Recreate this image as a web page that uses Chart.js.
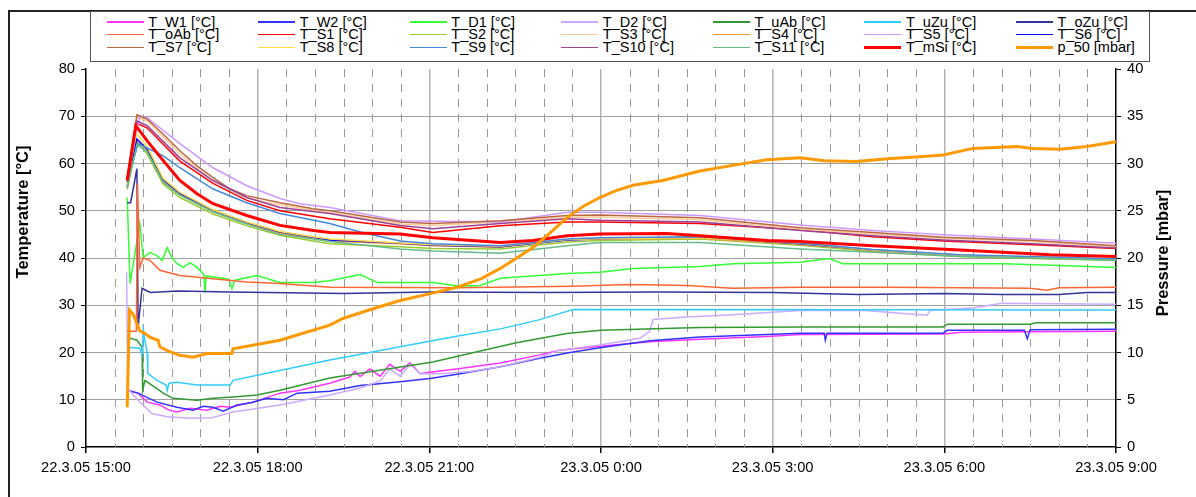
<!DOCTYPE html>
<html>
<head>
<meta charset="utf-8">
<title>Temperaturas y presión</title>
<script src="https://cdn.jsdelivr.net/npm/chart.js@4.4.0/dist/chart.umd.min.js"></script>
<style>
    body { margin: 0; background: #fff; font-family: "Liberation Sans", Arial, sans-serif; }
    #contenedor { position: relative; width: 1196px; height: 497px; overflow: hidden; }
    #grafico { position: absolute; left: 0; top: 0; }
    #marco { position: absolute; left: 8px; top: 10px; width: 1200px; height: 500px; border: 2px solid #222; }
    #leyenda { position: absolute; left: 90px; top: 11px; width: 1058px; height: 49px; border: 1px solid #555; background: #fff; }
    .muestra { position: absolute; width: 37px; }
    .texto { position: absolute; font-size: 14.5px; line-height: 13px; white-space: nowrap; color: #000; }
</style>
</head>
<body>
<div id="contenedor">
    <canvas id="grafico" width="1196" height="497"></canvas>
    <div id="marco"></div>
    <div id="leyenda"></div>
</div>
<script>
// Nombres de las series (orden de la leyenda)
const nombres = ['T_W1 [°C]', 'T_W2 [°C]', 'T_D1 [°C]', 'T_D2 [°C]', 'T_uAb [°C]', 'T_uZu [°C]', 'T_oZu [°C]',
    'T_oAb [°C]', 'T_S1 [°C]', 'T_S2 [°C]', 'T_S3 [°C]', 'T_S4 [°C]', 'T_S5 [°C]', 'T_S6 [°C]',
    'T_S7 [°C]', 'T_S8 [°C]', 'T_S9 [°C]', 'T_S10 [°C]', 'T_S11 [°C]', 'T_mSi [°C]', 'p_50 [mbar]'];

const colores = ['#ff33ff', '#3333ff', '#33ff33', '#ccaaff', '#339933', '#33ccff', '#333399',
    '#ff6633', '#ff0000', '#99cc33', '#ffcc99', '#ff9933', '#cc99ff', '#0000ff',
    '#bb6644', '#ffdd44', '#4488dd', '#994499', '#66bb88', '#ff0000', '#ff9900'];

// Etiquetas del eje de tiempo (cada 3 horas desde 22.3.05 15:00)
const etiquetasTiempo = ['22.3.05 15:00', '22.3.05 18:00', '22.3.05 21:00', '23.3.05 0:00', '23.3.05 3:00', '23.3.05 6:00', '23.3.05 9:00'];

// Datos: [horas desde 15:00, valor]
const tW1 = [[0.72,12.0],[0.91,11.4],[1.07,9.5],[1.29,8.9],[1.45,7.8],[1.59,7.4],[1.82,8.2],[2.11,7.8],[2.35,8.6],[2.52,8.4],[2.92,9.5],[3.39,11.4],[3.74,12.0],[4.26,13.5],[4.61,14.8],[4.7,16.0],[4.79,14.9],[4.96,16.5],[5.14,15.0],[5.31,17.5],[5.49,16.0],[5.66,17.8],[5.84,15.5],[6.01,15.8],[6.54,16.6],[7.24,17.8],[7.93,19.5],[8.28,20.5],[8.98,21.3],[9.85,22.3],[10.73,22.8],[11.9,23.4],[12.48,23.8],[14.98,23.9],[15.3,24.3],[16.5,24.4],[18.0,24.5]];
const tW2 = [[0.72,12.0],[0.91,11.4],[1.24,9.5],[1.59,8.4],[1.87,7.8],[2.05,8.6],[2.22,8.4],[2.4,7.6],[2.64,8.9],[2.9,9.4],[3.16,10.3],[3.45,10.0],[3.69,11.4],[4.26,11.8],[4.79,13.0],[5.49,13.8],[6.01,14.5],[6.54,15.5],[7.24,17.0],[7.93,18.8],[8.46,20.0],[8.98,21.0],[9.85,22.5],[10.73,23.3],[11.9,23.8],[12.48,24.1],[12.9,24.1],[12.92,22.6],[12.95,24.1],[14.98,24.1],[15.05,24.7],[16.4,24.7],[16.45,22.9],[16.5,24.8],[18.0,24.9]];
const tD1 = [[0.72,52.8],[0.77,34.6],[0.94,47.3],[1.0,40.1],[1.12,41.2],[1.24,40.5],[1.33,39.5],[1.42,42.2],[1.5,40.1],[1.59,38.8],[1.7,38.0],[1.82,39.0],[1.94,38.0],[2.06,36.5],[2.08,32.7],[2.1,36.2],[2.5,35.5],[2.55,33.5],[2.6,35.3],[2.99,36.3],[3.39,34.8],[3.97,34.8],[4.26,35.2],[4.79,36.5],[5.09,34.8],[6.06,34.8],[6.54,34.0],[6.89,34.2],[7.24,35.7],[8.41,36.7],[8.98,37.0],[9.56,37.8],[10.73,38.2],[11.31,38.8],[12.48,39.1],[12.98,39.9],[13.23,38.8],[16.03,38.8],[17.02,38.4],[18.0,38.0]];
const tD2 = [[0.71,37.0],[0.73,12.4],[0.91,9.9],[1.15,7.1],[1.42,6.4],[1.82,6.1],[2.2,6.2],[2.57,7.4],[3.39,8.9],[4.26,11.0],[4.79,12.5],[5.14,14.0],[5.31,16.5],[5.49,15.0],[5.66,17.5],[5.84,15.5],[6.19,15.5],[6.71,16.0],[7.24,17.0],[7.93,19.0],[8.28,20.5],[8.98,21.6],[9.68,23.0],[9.85,24.5],[9.91,27.0],[10.5,27.5],[11.3,28.0],[12.48,28.9],[13.6,28.9],[14.7,27.9],[14.75,28.9],[15.5,29.4],[16.0,30.4],[18.0,30.2]];
const tUAb = [[0.72,23.2],[0.89,22.6],[0.98,21.1],[0.99,12.0],[1.03,14.1],[1.15,13.1],[1.35,11.4],[1.52,10.3],[1.94,9.9],[2.22,10.3],[2.57,10.6],[2.99,11.0],[3.39,12.0],[4.26,14.6],[6.06,18.0],[7.5,22.0],[8.4,24.0],[9.0,24.7],[10.73,25.3],[12.48,25.4],[14.98,25.4],[15.05,26.0],[16.5,26.0],[16.6,26.3],[18.0,26.3]];
const tUZu = [[0.72,21.1],[0.94,20.9],[0.98,19.5],[1.0,24.7],[1.07,19.8],[1.08,15.6],[1.24,14.1],[1.4,13.1],[1.42,12.0],[1.45,13.5],[1.59,13.7],[1.94,13.1],[2.52,13.1],[2.57,14.1],[2.99,15.2],[4.26,18.4],[5.49,21.2],[6.5,23.5],[7.24,25.0],[7.88,26.8],[8.51,29.1],[18.0,29.0]];
const tOZu = [[0.72,51.7],[0.78,51.7],[0.89,58.9],[0.91,25.3],[0.98,33.6],[1.12,32.7],[1.6,33.0],[2.5,32.8],[4.5,32.5],[6.0,32.8],[8.0,32.7],[10.0,32.8],[12.0,32.7],[13.5,32.3],[15.0,32.5],[16.0,32.3],[17.0,32.3],[17.5,32.7],[18.0,32.7]];
const tOAb = [[0.72,24.5],[0.88,24.5],[0.9,55.7],[0.94,38.0],[1.0,40.0],[1.12,39.5],[1.29,37.4],[1.64,36.3],[2.22,35.6],[2.81,34.9],[3.39,34.6],[4.26,33.8],[6.5,33.7],[8.5,34.0],[9.5,34.4],[10.5,34.2],[11.3,33.6],[12.5,33.8],[14.0,33.8],[16.5,33.6],[16.8,33.2],[17.0,33.7],[18.0,33.8]];
const tS1 = [[0.72,56.0],[0.89,68.5],[1.07,67.5],[1.64,60.5],[2.22,55.8],[2.81,52.2],[3.39,50.0],[4.26,48.3],[5.49,46.5],[6.06,45.4],[7.24,46.8],[8.41,47.6],[8.98,47.6],[10.73,47.3],[12.48,46.0],[13.75,44.5],[14.98,43.6],[16.55,42.8],[18.0,42.0]];
const tS2 = [[0.72,54.5],[0.89,64.5],[1.07,62.0],[1.35,55.6],[1.64,52.8],[2.22,49.3],[2.81,46.8],[3.39,44.8],[3.97,43.6],[4.26,43.0],[5.49,42.4],[6.06,42.0],[7.24,41.9],[8.41,43.4],[8.98,43.7],[10.73,44.0],[12.48,42.7],[13.75,41.4],[15.27,40.3],[16.85,39.8],[18.0,39.5]];
const tS3 = [[0.72,56.5],[0.89,69.8],[1.07,69.0],[1.35,65.6],[1.64,62.0],[1.94,58.9],[2.22,56.4],[2.81,52.7],[3.39,51.2],[4.26,49.6],[5.49,47.2],[6.06,46.9],[7.24,47.6],[8.41,48.6],[8.98,48.7],[10.73,48.1],[12.48,46.1],[13.75,45.1],[14.98,44.2],[16.55,43.5],[18.0,42.4]];
const tS4 = [[0.72,55.0],[0.89,65.0],[1.07,62.8],[1.35,56.2],[1.64,53.4],[2.22,49.8],[2.81,47.3],[3.39,45.3],[3.97,44.2],[4.26,43.6],[5.49,43.0],[6.06,42.6],[7.24,42.3],[8.41,43.8],[8.98,44.0],[10.73,44.2],[12.48,42.9],[13.75,41.6],[15.27,40.5],[16.85,40.0],[18.0,39.7]];
const tS5 = [[0.72,57.0],[0.94,70.0],[1.07,69.7],[1.64,64.2],[2.22,59.1],[2.81,55.3],[3.39,52.6],[3.74,51.5],[4.26,50.7],[5.49,47.9],[7.24,47.6],[8.41,49.7],[8.98,49.7],[10.73,49.0],[12.48,47.0],[13.75,45.8],[14.98,44.9],[16.55,44.0],[18.0,43.1]];
const tS6 = [[0.72,55.2],[0.89,65.2],[1.07,63.0],[1.35,56.6],[1.64,53.7],[2.22,50.1],[2.81,47.5],[3.39,45.5],[3.97,44.4],[4.26,43.8],[5.49,43.1],[6.06,42.7],[7.24,42.4],[8.41,43.8],[8.98,44.1],[10.73,44.4],[12.48,43.0],[13.75,41.7],[15.27,40.6],[16.85,40.0],[18.0,39.8]];
const tS7 = [[0.72,56.8],[0.89,70.3],[1.07,69.4],[1.35,66.2],[1.64,62.7],[1.94,59.5],[2.22,57.0],[2.52,54.6],[2.81,53.2],[3.39,51.7],[3.97,50.4],[4.26,50.0],[5.49,47.6],[6.06,47.3],[7.24,47.9],[8.41,49.0],[8.98,49.1],[10.73,48.5],[12.48,46.4],[13.75,45.4],[14.98,44.4],[16.55,43.7],[18.0,42.6]];
const tS8 = [[0.72,55.5],[0.87,66.5],[1.07,63.5],[1.35,56.8],[1.64,53.9],[2.22,50.2],[2.81,47.6],[3.39,45.6],[3.97,44.5],[4.26,44.0],[5.49,43.2],[6.06,42.8],[7.24,42.5],[8.41,43.9],[8.98,44.1],[10.73,44.3],[12.48,43.1],[13.75,41.7],[15.27,40.6],[16.85,40.1],[18.0,39.7]];
const tS9 = [[0.72,56.0],[0.91,64.2],[1.35,61.6],[1.64,59.1],[2.22,54.6],[2.81,51.7],[3.39,49.4],[4.26,47.3],[4.79,45.5],[5.49,43.6],[6.06,43.0],[7.24,42.6],[8.41,44.0],[8.98,44.3],[10.73,44.5],[12.48,43.2],[13.75,41.8],[15.27,40.7],[16.85,40.2],[18.0,39.8]];
const tS10 = [[0.72,56.5],[0.89,69.0],[1.07,68.0],[1.64,61.2],[2.22,56.4],[2.81,52.8],[3.39,50.7],[4.26,49.4],[5.49,46.9],[6.06,46.2],[7.24,47.3],[8.41,48.3],[8.98,48.0],[10.73,47.6],[12.48,45.8],[13.75,44.7],[14.98,43.8],[16.55,43.0],[18.0,42.1]];
const tS11 = [[0.72,54.8],[0.89,64.0],[1.07,62.5],[1.35,56.0],[1.64,53.3],[2.22,49.8],[2.81,47.2],[3.39,45.0],[3.97,44.0],[4.26,43.5],[5.49,41.9],[6.06,41.5],[7.24,41.0],[8.41,42.6],[8.98,43.3],[10.73,43.3],[12.48,41.9],[13.75,41.2],[15.27,40.3],[16.85,39.9],[18.0,39.5]];
const tMSi = [[0.72,56.4],[0.87,68.0],[1.07,64.8],[1.35,60.6],[1.64,56.4],[1.94,53.6],[2.22,51.5],[2.81,49.0],[3.39,46.9],[3.97,45.8],[4.26,45.4],[5.49,45.1],[6.06,44.3],[7.24,43.3],[7.81,43.7],[8.41,44.7],[8.98,45.1],[10.15,45.2],[10.73,44.7],[11.9,43.7],[12.48,43.5],[13.75,42.6],[15.27,41.7],[16.85,40.7],[18.0,40.3]];
const p50 = [[0.72,4.2],[0.76,14.5],[0.82,14.1],[0.94,12.3],[1.03,12.0],[1.12,11.6],[1.26,11.3],[1.29,10.6],[1.42,10.2],[1.64,9.7],[1.87,9.5],[2.11,9.9],[2.55,9.9],[2.57,10.4],[3.39,11.3],[4.26,12.9],[4.49,13.6],[5.0,14.6],[5.49,15.5],[6.0,16.2],[6.48,16.9],[6.9,17.8],[7.24,18.9],[7.5,19.9],[7.81,21.1],[8.1,22.6],[8.41,24.3],[8.7,25.5],[8.98,26.4],[9.25,27.1],[9.56,27.7],[10.08,28.2],[10.73,29.2],[11.3,29.8],[11.9,30.4],[12.48,30.6],[12.9,30.3],[13.47,30.2],[14.0,30.5],[14.5,30.7],[14.98,30.9],[15.5,31.6],[16.27,31.8],[16.55,31.6],[17.02,31.5],[17.49,31.8],[18.0,32.3]];

const series = [tW1, tW2, tD1, tD2, tUAb, tUZu, tOZu, tOAb, tS1, tS2, tS3, tS4, tS5, tS6, tS7, tS8, tS9, tS10, tS11, tMSi, p50];

const fuente = '"Liberation Sans", Arial, sans-serif';

// Construir la leyenda en 7 columnas
function construirLeyenda() {
    const leyenda = document.getElementById('leyenda');
    const filasY = [22, 34.7, 47.7];
    nombres.forEach((nombre, i) => {
        const col = i % 7;
        const fila = Math.floor(i / 7);
        const x = 106.7 + col * 151.55 - 91;
        const y = filasY[fila] - 12;
        const grueso = (i >= 19) ? 3 : 1.6;

        const muestra = document.createElement('div');
        muestra.className = 'muestra';
        muestra.style.left = x + 'px';
        muestra.style.top = (y - grueso / 2) + 'px';
        muestra.style.height = grueso + 'px';
        muestra.style.background = colores[i];
        leyenda.appendChild(muestra);

        const texto = document.createElement('div');
        texto.className = 'texto';
        texto.style.left = (x + 41.5) + 'px';
        texto.style.top = (y - 6.5) + 'px';
        texto.textContent = nombre;
        leyenda.appendChild(texto);
    });
}

// Líneas discontinuas cada media hora y títulos de los ejes
const pluginRejilla = {
    id: 'rejilla',
    beforeDatasetsDraw(chart) {
        const { ctx, chartArea, scales } = chart;
        ctx.save();
        ctx.strokeStyle = '#9a9a9a';
        ctx.lineWidth = 1;
        ctx.setLineDash([8, 7]);
        for (let h = 0.5; h < 18; h += 0.5) {
            if (h % 3 === 0) continue;
            const x = Math.round(scales.x.getPixelForValue(h)) + 0.5;
            ctx.beginPath();
            ctx.moveTo(x, chartArea.top);
            ctx.lineTo(x, chartArea.bottom);
            ctx.stroke();
        }
        ctx.restore();
    },
    afterDraw(chart) {
        const { ctx } = chart;
        const titulos = [['Temperature [°C]', 23, 212], ['Pressure [mbar]', 1163, 253]];
        titulos.forEach(([texto, x, y]) => {
            ctx.save();
            ctx.translate(x, y);
            ctx.rotate(-Math.PI / 2);
            ctx.font = 'bold 16.5px ' + fuente;
            ctx.fillStyle = '#000';
            ctx.textAlign = 'center';
            ctx.textBaseline = 'middle';
            ctx.fillText(texto, 0, 0);
            ctx.restore();
        });
    }
};

function mostrarGrafico() {
    const datasets = series.map((datos, i) => ({
        label: nombres[i],
        data: datos,
        borderColor: colores[i],
        backgroundColor: colores[i],
        borderWidth: (i >= 19) ? 3 : 1.5,
        pointRadius: 0,
        tension: 0,
        yAxisID: (i === 20) ? 'y1' : 'y',
        order: series.length - i
    }));

    const ctx = document.getElementById('grafico');
    new Chart(ctx, {
        type: 'line',
        data: { datasets: datasets },
        options: {
            responsive: false,
            animation: false,
            devicePixelRatio: 1,
            layout: { padding: { top: 69, left: 0, right: 0, bottom: 0 } },
            plugins: { legend: { display: false }, tooltip: { enabled: false } },
            scales: {
                x: {
                    type: 'linear',
                    min: 0,
                    max: 18,
                    afterFit: s => { s.height = 50; },
                    ticks: {
                        stepSize: 3,
                        autoSkip: false,
                        maxRotation: 0,
                        padding: 6,
                        color: '#000',
                        font: { family: fuente, size: 14.7 },
                        callback: v => etiquetasTiempo[Math.round(v / 3)]
                    },
                    grid: {
                        color: c => (c.tick && c.tick.value > 0 && c.tick.value < 18) ? '#b4b4b4' : 'rgba(0,0,0,0)',
                        lineWidth: 1.5,
                        tickLength: 6,
                        tickColor: '#000'
                    },
                    border: { color: '#000', width: 1.5 }
                },
                y: {
                    position: 'left',
                    min: 0,
                    max: 80,
                    afterFit: s => { s.width = 86; },
                    ticks: { stepSize: 10, padding: 6, color: '#000', font: { family: fuente, size: 14.7 } },
                    grid: {
                        color: c => (c.tick && c.tick.value > 0 && c.tick.value < 80) ? '#a0a0a0' : 'rgba(0,0,0,0)',
                        lineWidth: 1,
                        tickLength: 5,
                        tickColor: '#000'
                    },
                    border: { color: '#000', width: 1.5 }
                },
                y1: {
                    position: 'right',
                    min: 0,
                    max: 40,
                    afterFit: s => { s.width = 80; },
                    ticks: { stepSize: 5, padding: 6, color: '#000', font: { family: fuente, size: 14.7 } },
                    grid: { drawOnChartArea: false, tickLength: 5, tickColor: '#000' },
                    border: { color: '#000', width: 1.5 }
                }
            }
        },
        plugins: [pluginRejilla]
    });
}

window.onload = function () {
    construirLeyenda();
    mostrarGrafico();
};
</script>
</body>
</html>
